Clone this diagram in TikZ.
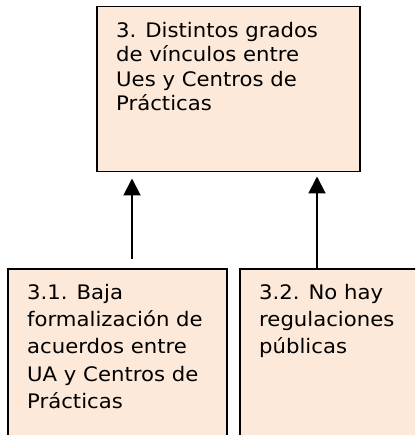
\documentclass[tikz,border=0pt]{standalone}
\usepackage{fontspec}
\setmainfont{DejaVu Sans}[FakeStretch=1.06]
\usetikzlibrary{arrows.meta}
\definecolor{peach}{HTML}{FDE9D9}
\tikzset{
  panel/.style={draw, line width=1.5pt, fill=peach, rectangle, inner sep=0pt, anchor=north west},
  txt/.style={anchor=north west, inner sep=0pt, align=left},
  link/.style={line width=2pt, -{Triangle[length=17pt,width=17pt]}}
}
\begin{document}
\begin{tikzpicture}[x=1pt,y=1pt]
      \useasboundingbox (0,0) rectangle (415,-435);
      \clip (0,0) rectangle (415,-435);
      \node[panel, minimum width=263pt, minimum height=165pt] (res) at (96,-6) {};
      \node[panel, minimum width=219pt, minimum height=190pt] (ua) at (7,-268) {};
      \node[panel, minimum width=200pt, minimum height=190pt] (reg) at (239,-268) {};
      \node[txt, font=\fontsize{20}{24.5}\selectfont] (res-t) at ([shift={(20pt,-16pt)}]res.north west)
        {3. Distintos grados\\de vínculos entre\\Ues y Centros de\\Prácticas};
      \node[txt, font=\fontsize{20}{27.3}\selectfont] (ua-t) at ([shift={(20pt,-16pt)}]ua.north west)
        {3.1. Baja\\formalización de\\acuerdos entre\\UA y Centros de\\Prácticas};
      \node[txt, font=\fontsize{20}{27.3}\selectfont] (reg-t) at ([shift={(20pt,-16pt)}]reg.north west)
        {3.2. No hay\\regulaciones\\públicas};
      \begin{scope}[link]
        \draw[shorten <=9pt, shorten >=6pt] ([xshift=125pt]ua.north west) -- ([xshift=125pt]ua.north west |- res.south);
        \draw[shorten >=4pt] ([xshift=78pt]reg.north west) -- ([xshift=78pt]reg.north west |- res.south);
      \end{scope}
    \end{tikzpicture}
\end{document}
